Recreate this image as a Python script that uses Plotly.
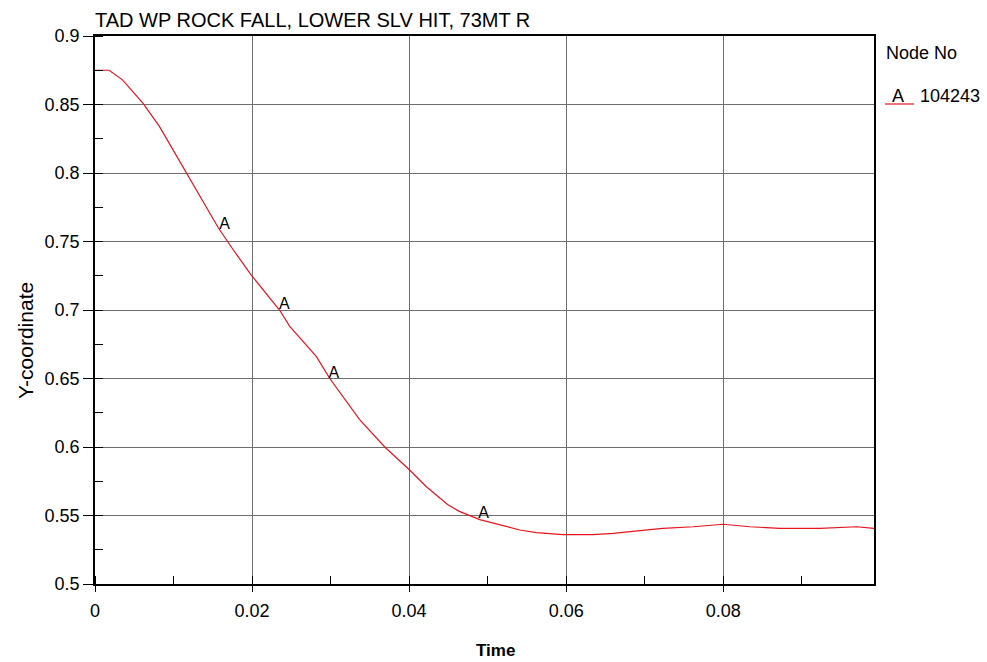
import plotly.graph_objects as go

# ---- data ----
time = [0, 0.0018, 0.0035, 0.0061, 0.0082, 0.0099, 0.0116, 0.0133, 0.0157, 0.0176,
        0.0199, 0.0235, 0.0248, 0.0282, 0.0299, 0.0337, 0.0369, 0.0401, 0.0422, 0.0449,
        0.0464, 0.0490, 0.0541, 0.0562, 0.0596, 0.0634, 0.0660, 0.0694, 0.0723, 0.0762,
        0.0800, 0.0834, 0.0872, 0.0923, 0.0970, 0.0992]
y_coord = [0.875, 0.875, 0.868, 0.851, 0.834, 0.817, 0.800, 0.783, 0.760, 0.744,
           0.7255, 0.700, 0.688, 0.666, 0.650, 0.620, 0.600, 0.583, 0.571, 0.558,
           0.553, 0.547, 0.5394, 0.5375, 0.536, 0.536, 0.537, 0.539, 0.5406, 0.5418,
           0.5436, 0.5418, 0.5406, 0.5406, 0.5418, 0.5406]

label_t = [0.0165, 0.0241, 0.0304, 0.0495]
label_y = [0.762, 0.704, 0.653, 0.551]
label_text = ["A", "A", "A", "A"]

x_ticks = [0, 0.02, 0.04, 0.06, 0.08]
x_tick_labels = ["0", "0.02", "0.04", "0.06", "0.08"]
y_ticks = [0.5, 0.55, 0.6, 0.65, 0.7, 0.75, 0.8, 0.85, 0.9]
y_tick_labels = ["0.5", "0.55", "0.6", "0.65", "0.7", "0.75", "0.8", "0.85", "0.9"]

title_text = "TAD WP ROCK FALL, LOWER SLV HIT, 73MT R"
legend_title = "Node No"
series_letter = "A"
series_name = "104243"

FONT = "Liberation Sans, Arial, sans-serif"
RED = "#e5141e"

fig = go.Figure()
fig.add_trace(go.Scatter(x=time, y=y_coord, mode="lines",
                         line=dict(color=RED, width=1.2), showlegend=False,
                         hoverinfo="x+y"))
fig.add_trace(go.Scatter(x=label_t, y=label_y, mode="text", text=label_text,
                         textposition="middle center",
                         textfont=dict(family=FONT, size=16, color="black"),
                         showlegend=False, hoverinfo="skip"))

axis_common = dict(showline=True, linecolor="black", linewidth=1.5, mirror=True,
                   showgrid=True, gridcolor="#6e6e6e", gridwidth=1,
                   zeroline=False, ticks="outside", tickcolor="black", tickwidth=1,
                   tickfont=dict(family=FONT, size=18, color="black"))

fig.update_xaxes(range=[0, 0.0992], tickvals=x_ticks, ticktext=x_tick_labels,
                 ticklen=6, ticklabelstandoff=4,
                 minor=dict(dtick=0.01, tick0=0, ticks="inside", ticklen=8,
                            tickcolor="black", tickwidth=1, showgrid=False),
                 **axis_common)
fig.update_yaxes(range=[0.5, 0.9], tickvals=y_ticks, ticktext=y_tick_labels,
                 ticklen=10, ticklabelstandoff=0,
                 minor=dict(dtick=0.025, tick0=0.5, ticks="inside", ticklen=8,
                            tickcolor="black", tickwidth=1, showgrid=False),
                 **axis_common)

W, H = 987, 662
L, R, T, B = 95, 874, 36, 584


def px(xp):
    return (xp - L) / (R - L)


def py(yp):
    return (B - yp) / (B - T)


annotations = [
    dict(text="<b>Time</b>", x=px(495), y=py(650), xref="paper", yref="paper",
         showarrow=False, xanchor="center", yanchor="middle",
         font=dict(family=FONT, size=17, color="black")),
    dict(text="Y-coordinate", x=px(25), y=py(341), xref="paper", yref="paper",
         showarrow=False, xanchor="center", yanchor="middle", textangle=-90,
         font=dict(family=FONT, size=21, color="black")),
    dict(text=legend_title, x=px(884), y=py(53), xref="paper", yref="paper",
         showarrow=False, xanchor="left", yanchor="middle",
         font=dict(family=FONT, size=18, color="black")),
    dict(text=series_letter, x=px(898), y=py(96), xref="paper", yref="paper",
         showarrow=False, xanchor="center", yanchor="middle",
         font=dict(family=FONT, size=18, color="black")),
    dict(text=series_name, x=px(918), y=py(96), xref="paper", yref="paper",
         showarrow=False, xanchor="left", yanchor="middle",
         font=dict(family=FONT, size=18, color="black")),
]

fig.add_shape(type="line", xref="paper", yref="paper",
              x0=px(885), x1=px(914), y0=py(104), y1=py(104),
              line=dict(color=RED, width=1.2))

fig.update_layout(
    width=W, height=H,
    margin=dict(l=L, r=W - R, t=T, b=H - B, pad=0),
    paper_bgcolor="white", plot_bgcolor="white",
    title=dict(text=title_text, x=L / W, xanchor="left", xref="container",
               y=1 - 19.5 / H, yanchor="middle", yref="container",
               font=dict(family=FONT, size=20, color="black")),
    annotations=annotations,
    showlegend=False,
)

fig.write_html("out.html",
               config={"displayModeBar": False},
               post_script="document.body.style.margin='0';"
                           "document.body.style.overflow='hidden';")
